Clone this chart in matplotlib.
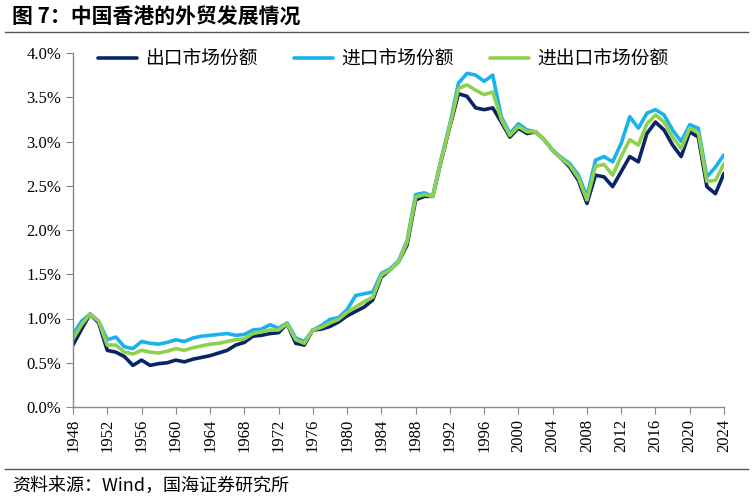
import matplotlib.pyplot as plt
from matplotlib.ticker import FuncFormatter
import numpy as np

plt.rcParams['font.family'] = ['Noto Sans CJK SC', 'DejaVu Sans']

years = np.arange(1948, 2025)

# 出口市场份额 (%)
export_share = [
    0.70, 0.88, 1.05, 0.95, 0.64, 0.62, 0.57, 0.47, 0.53, 0.47,
    0.49, 0.50, 0.53, 0.51, 0.54, 0.56, 0.58, 0.61, 0.64, 0.70,
    0.73, 0.80, 0.81, 0.83, 0.84, 0.94, 0.72, 0.70, 0.87, 0.88,
    0.91, 0.96, 1.03, 1.08, 1.13, 1.21, 1.47, 1.55, 1.64, 1.83,
    2.34, 2.38, 2.38, 2.79, 3.17, 3.54, 3.51, 3.38, 3.36, 3.38,
    3.22, 3.05, 3.15, 3.09, 3.11, 3.02, 2.90, 2.81, 2.71, 2.56,
    2.30, 2.62, 2.60, 2.49, 2.66, 2.83, 2.77, 3.09, 3.22, 3.13,
    2.96, 2.83, 3.11, 3.05, 2.49, 2.41, 2.64,
]

# 进口市场份额 (%)
import_share = [
    0.82, 0.97, 1.05, 0.97, 0.76, 0.79, 0.68, 0.66, 0.74, 0.72,
    0.71, 0.73, 0.76, 0.74, 0.78, 0.80, 0.81, 0.82, 0.83, 0.81,
    0.82, 0.87, 0.88, 0.93, 0.89, 0.95, 0.78, 0.74, 0.87, 0.92,
    0.99, 1.01, 1.10, 1.26, 1.28, 1.30, 1.51, 1.56, 1.65, 1.88,
    2.40, 2.42, 2.38, 2.81, 3.20, 3.66, 3.77, 3.75, 3.68, 3.75,
    3.28, 3.09, 3.20, 3.13, 3.11, 3.02, 2.90, 2.82, 2.75, 2.62,
    2.38, 2.79, 2.83, 2.77, 2.98, 3.28, 3.15, 3.32, 3.36, 3.30,
    3.13, 3.00, 3.19, 3.15, 2.60, 2.71, 2.85,
]

# 进出口市场份额 (%)
total_share = [
    0.77, 0.93, 1.05, 0.97, 0.70, 0.70, 0.62, 0.60, 0.64, 0.62,
    0.61, 0.63, 0.66, 0.64, 0.67, 0.69, 0.71, 0.72, 0.74, 0.76,
    0.77, 0.83, 0.85, 0.87, 0.87, 0.94, 0.76, 0.72, 0.87, 0.90,
    0.95, 0.99, 1.07, 1.13, 1.19, 1.24, 1.49, 1.55, 1.64, 1.86,
    2.37, 2.40, 2.38, 2.80, 3.18, 3.60, 3.64, 3.58, 3.53, 3.56,
    3.25, 3.07, 3.17, 3.11, 3.11, 3.02, 2.90, 2.81, 2.73, 2.59,
    2.34, 2.72, 2.74, 2.62, 2.83, 3.02, 2.96, 3.20, 3.30, 3.22,
    3.05, 2.92, 3.15, 3.10, 2.55, 2.56, 2.75,
]

series_names = ['出口市场份额', '进口市场份额', '进出口市场份额']
colors = ['#0b2466', '#1ab2ec', '#8fd14f']

fig = plt.figure(figsize=(7.53, 5.0), dpi=100)
ax = fig.add_axes([73 / 753, 1 - 407 / 500, (724 - 73) / 753, (407 - 53) / 500])

for vals, name, c in zip([export_share, import_share, total_share], series_names, colors):
    ax.plot(years, vals, color=c, linewidth=2.6, label=name,
            solid_joinstyle='round', solid_capstyle='round')

ax.set_xlim(1948, 2024)
ax.set_ylim(0, 4.0)
ax.set_xticks(np.arange(1948, 2025, 4))
ax.set_yticks(np.arange(0, 4.01, 0.5))
ax.yaxis.set_major_formatter(FuncFormatter(lambda v, p: '%.1f%%' % v))

for s in ['top', 'right']:
    ax.spines[s].set_visible(False)
for s in ['left', 'bottom']:
    ax.spines[s].set_color('#888888')
    ax.spines[s].set_linewidth(1.0)
ax.tick_params(axis='both', colors='#888888', length=5, direction='out')
for lbl in ax.get_xticklabels() + ax.get_yticklabels():
    lbl.set_family('Liberation Serif')
    lbl.set_fontsize(12)
    lbl.set_color('black')
for lbl in ax.get_xticklabels():
    lbl.set_rotation(90)

ax.legend(loc='upper left', bbox_to_anchor=(0.012, 1.06), ncol=3, frameon=False,
          fontsize=13.5, handlelength=2.1, columnspacing=1.9, handletextpad=0.45)

fig.text(12 / 753, 1 - 17 / 500, '图 7：中国香港的外贸发展情况', fontsize=15,
         fontweight='bold', va='center', ha='left')
fig.add_artist(plt.Line2D([5 / 753, 748 / 753], [1 - 32 / 500, 1 - 32 / 500],
                          color='#555555', linewidth=1.0))
fig.add_artist(plt.Line2D([5 / 753, 748 / 753], [1 - 469 / 500, 1 - 469 / 500],
                          color='#555555', linewidth=1.0))
fig.text(12 / 753, 1 - 486 / 500, '资料来源：Wind，国海证券研究所', fontsize=13,
         va='center', ha='left')

fig.savefig('out.png', dpi=100)
